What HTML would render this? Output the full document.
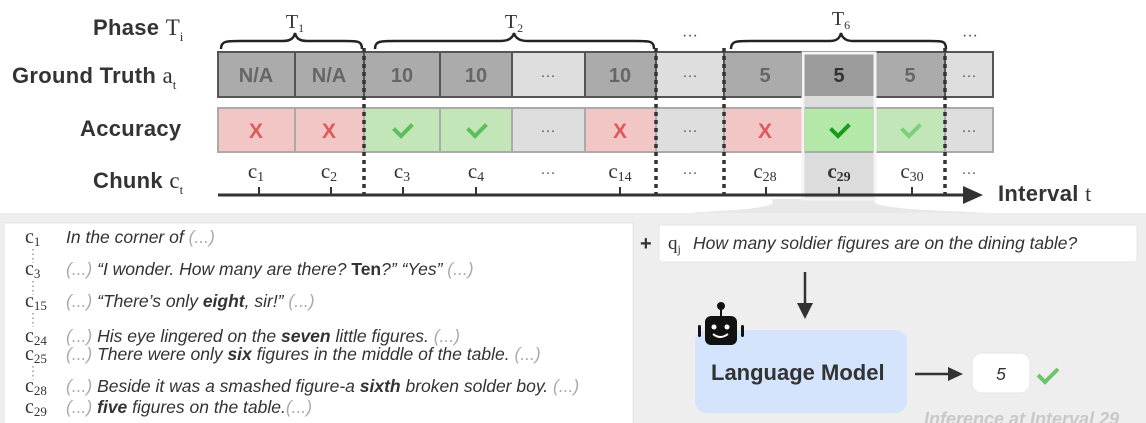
<!DOCTYPE html>
<html><head><meta charset="utf-8"><style>
html,body{margin:0;padding:0;background:#fff;width:1146px;height:423px;overflow:hidden}
svg text{font-family:"Liberation Sans",sans-serif}
.lab{font-weight:bold;font-size:22px;fill:#333;letter-spacing:0.3px}
.ser{font-family:"Liberation Serif",serif !important;fill:#333;letter-spacing:0}
.cell{font-weight:bold;font-size:20px;fill:#666}
.it{font-style:italic;font-size:17.5px;fill:#333}
.gr{fill:#aaa}
</style></head><body>
<svg width="1146" height="423" viewBox="0 0 1146 423" xmlns="http://www.w3.org/2000/svg">
<rect x="0" y="213" width="1146" height="210" fill="#eeeeee"/>
<path d="M770 199 C790 210 700 211 690 213 L990 213 C960 211 860 210 876 199 Z" fill="#e8e8e8"/>
<text x="93" y="35" class="lab">Phase <tspan class="ser" font-weight="normal" font-size="23">T</tspan><tspan class="ser" font-weight="normal" font-size="13" dy="6">i</tspan></text>
<text x="12" y="83" class="lab" font-size="23">Ground Truth <tspan class="ser" font-weight="normal" font-size="23">a</tspan><tspan class="ser" font-weight="normal" font-size="13" dy="6">t</tspan></text>
<text x="80" y="136" class="lab" font-size="23">Accuracy</text>
<text x="93" y="188" class="lab" font-size="23">Chunk <tspan class="ser" font-weight="normal" font-size="23">c</tspan><tspan class="ser" font-weight="normal" font-size="13" dy="6">t</tspan></text>
<g fill="none" stroke="#222" stroke-width="2.5">
<path d="M221 49 C221 41 226 41 240 41 L283 41 C292 41 294 37 295 33 C296 37 298 41 307 41 L345 41 C358 41 362 41 362 49"/>
<path d="M375 49 C375 41 380 41 395 41 L500 41 C510 41 513 37 514 33 C515 37 518 41 528 41 L636 41 C650 41 654 41 654 49"/>
<path d="M731 49 C731 41 736 41 750 41 L830 41 C838 41 840 37 841 33 C842 37 845 41 853 41 L930 41 C943 41 946 41 946 49"/>
</g>
<text x="295" y="28" class="ser" font-size="20" text-anchor="middle">T<tspan font-size="12" dy="4">1</tspan></text>
<text x="514" y="28" class="ser" font-size="20" text-anchor="middle">T<tspan font-size="12" dy="4">2</tspan></text>
<text x="841" y="25" class="ser" font-size="20" text-anchor="middle">T<tspan font-size="12" dy="4">6</tspan></text>
<text x="690" y="40" font-size="16" fill="#444" text-anchor="middle">···</text>
<text x="970" y="40" font-size="16" fill="#444" text-anchor="middle">···</text>
<g stroke="#555" stroke-width="2">
<rect x="218" y="52" width="146" height="45" fill="#ababab"/>
<rect x="364" y="52" width="148" height="45" fill="#ababab"/>
<rect x="512" y="52" width="73" height="45" fill="#dedede"/>
<rect x="585" y="52" width="71" height="45" fill="#ababab"/>
<rect x="656" y="52" width="68" height="45" fill="#dedede"/>
<rect x="724" y="52" width="221" height="45" fill="#ababab"/>
<rect x="945" y="52" width="48" height="45" fill="#dedede"/>
<line x1="295" y1="52" x2="295" y2="97"/><line x1="440" y1="52" x2="440" y2="97"/>
<line x1="802" y1="52" x2="802" y2="97"/><line x1="875" y1="52" x2="875" y2="97"/>
</g>
<rect x="804" y="54" width="70" height="145" fill="#dcdcdc"/>
<rect x="804" y="54" width="70" height="42" fill="#9b9b9b"/>
<g text-anchor="middle">
<text x="256" y="82" class="cell">N/A</text><text x="329" y="82" class="cell">N/A</text>
<text x="402" y="82" class="cell">10</text><text x="476" y="82" class="cell">10</text>
<text x="620" y="82" class="cell">10</text>
<text x="765" y="82" class="cell">5</text><text x="839" y="82" class="cell" style="fill:#333">5</text><text x="910" y="82" class="cell">5</text>
</g>
<g font-size="15" fill="#555" text-anchor="middle"><text x="548" y="80">···</text><text x="690" y="80">···</text><text x="969" y="80">···</text></g>
<g stroke="#aaa" stroke-width="2">
<rect x="218" y="108" width="146" height="44" fill="#f3c6c6"/>
<rect x="364" y="108" width="148" height="44" fill="#c2e6b8"/>
<rect x="512" y="108" width="73" height="44" fill="#dedede"/>
<rect x="585" y="108" width="71" height="44" fill="#f3c6c6"/>
<rect x="656" y="108" width="68" height="44" fill="#dedede"/>
<rect x="724" y="108" width="80" height="44" fill="#f3c6c6"/>
<rect x="804" y="108" width="70" height="44" fill="#b3e8a8"/>
<rect x="874" y="108" width="71" height="44" fill="#c2e6b8"/>
<rect x="945" y="108" width="48" height="44" fill="#dedede"/>
<line x1="295" y1="108" x2="295" y2="152"/><line x1="440" y1="108" x2="440" y2="152"/>
</g>
<g font-weight="bold" font-size="21" fill="#dc5b5b" text-anchor="middle">
<text x="256" y="138">X</text><text x="329" y="138">X</text><text x="620" y="138">X</text><text x="765" y="138">X</text></g>
<g fill="none" stroke-width="4" stroke-linecap="square">
<path d="M395 130 l6 6 l10 -10" stroke="#5cbf5c"/><path d="M469 130 l6 6 l10 -10" stroke="#5cbf5c"/>
<path d="M832 130 l6 6 l10 -10" stroke="#1a9a1a"/><path d="M903 130 l6 6 l10 -10" stroke="#7ccf7c"/>
</g>
<g font-size="15" fill="#555" text-anchor="middle"><text x="548" y="135">···</text><text x="690" y="135">···</text><text x="969" y="135">···</text></g>
<g text-anchor="middle">
<text x="256" y="178" class="ser" font-size="21">c<tspan font-size="14" dy="3">1</tspan></text>
<text x="329" y="178" class="ser" font-size="21">c<tspan font-size="14" dy="3">2</tspan></text>
<text x="402" y="178" class="ser" font-size="21">c<tspan font-size="14" dy="3">3</tspan></text>
<text x="476" y="178" class="ser" font-size="21">c<tspan font-size="14" dy="3">4</tspan></text>
<text x="620" y="178" class="ser" font-size="21">c<tspan font-size="14" dy="3">14</tspan></text>
<text x="765" y="178" class="ser" font-size="21">c<tspan font-size="14" dy="3">28</tspan></text>
<text x="839" y="178" class="ser" font-size="21" font-weight="bold">c<tspan font-size="14" dy="3">29</tspan></text>
<text x="912" y="178" class="ser" font-size="21">c<tspan font-size="14" dy="3">30</tspan></text>
</g>
<g font-size="15" fill="#555" text-anchor="middle"><text x="548" y="177">···</text><text x="690" y="177">···</text><text x="969" y="177">···</text></g>
<rect x="803" y="53" width="72" height="146" fill="none" stroke="#f4f4f4" stroke-width="3"/>
<line x1="218" y1="195" x2="965" y2="195" stroke="#333" stroke-width="3"/>
<path d="M963 186 L983 195 L963 204 Z" fill="#333"/>
<g stroke="#333" stroke-width="2">
<line x1="259" y1="187" x2="259" y2="195"/><line x1="331" y1="187" x2="331" y2="195"/>
<line x1="403" y1="187" x2="403" y2="195"/><line x1="476" y1="187" x2="476" y2="195"/>
<line x1="620" y1="187" x2="620" y2="195"/><line x1="766" y1="187" x2="766" y2="195"/>
<line x1="839" y1="187" x2="839" y2="195"/><line x1="912" y1="187" x2="912" y2="195"/>
</g>
<g stroke="#333" stroke-width="3.5" stroke-dasharray="4 4">
<line x1="364" y1="48" x2="364" y2="195"/><line x1="656" y1="48" x2="656" y2="195"/>
<line x1="724" y1="48" x2="724" y2="195"/><line x1="945" y1="48" x2="945" y2="195"/>
</g>
<text x="998" y="201" class="lab" font-size="23">Interval <tspan class="ser" font-weight="normal">t</tspan></text>
<rect x="4" y="223" width="629" height="210" fill="#fff" stroke="#e4e4e4"/>
<g>
<text x="25" y="243" class="ser" font-size="20">c<tspan font-size="13" dy="3">1</tspan></text>
<text x="25" y="275" class="ser" font-size="20">c<tspan font-size="13" dy="3">3</tspan></text>
<text x="25" y="307" class="ser" font-size="20">c<tspan font-size="13" dy="3">15</tspan></text>
<text x="25" y="342" class="ser" font-size="20">c<tspan font-size="13" dy="3">24</tspan></text>
<text x="25" y="360" class="ser" font-size="20">c<tspan font-size="13" dy="3">25</tspan></text>
<text x="25" y="392" class="ser" font-size="20">c<tspan font-size="13" dy="3">28</tspan></text>
<text x="25" y="413" class="ser" font-size="20">c<tspan font-size="13" dy="3">29</tspan></text>
</g>
<g stroke="#999" stroke-width="1.5" stroke-dasharray="1.5 3"><line x1="33" y1="249" x2="33" y2="263"/><line x1="33" y1="281" x2="33" y2="295"/><line x1="33" y1="313" x2="33" y2="327"/><line x1="33" y1="366" x2="33" y2="380"/></g>
<text x="66" y="243" class="it">In the corner of <tspan class="gr">(...)</tspan></text>
<text x="66" y="275" class="it"><tspan class="gr">(...)</tspan> “I wonder. How many are there? <tspan font-weight="bold" font-style="normal">Ten</tspan>?” “Yes” <tspan class="gr">(...)</tspan></text>
<text x="66" y="307" class="it"><tspan class="gr">(...)</tspan> “There’s only <tspan font-weight="bold">eight</tspan>, sir!” <tspan class="gr">(...)</tspan></text>
<text x="66" y="342" class="it"><tspan class="gr">(...)</tspan> His eye lingered on the <tspan font-weight="bold">seven</tspan> little figures. <tspan class="gr">(...)</tspan></text>
<text x="66" y="360" class="it"><tspan class="gr">(...)</tspan> There were only <tspan font-weight="bold">six</tspan> figures in the middle of the table. <tspan class="gr">(...)</tspan></text>
<text x="66" y="392" class="it"><tspan class="gr">(...)</tspan> Beside it was a smashed figure-a <tspan font-weight="bold">sixth</tspan> broken solder boy. <tspan class="gr">(...)</tspan></text>
<text x="66" y="413" class="it"><tspan class="gr">(...)</tspan> <tspan font-weight="bold">five</tspan> figures on the table.<tspan class="gr">(...)</tspan></text>
<text x="640" y="250" font-size="20" font-weight="bold" fill="#333">+</text>
<rect x="659" y="225" width="478" height="37" rx="3" fill="#fff" stroke="#e6e6ee"/>
<text x="668" y="249" class="ser" font-size="19">q<tspan font-size="12" dy="4">j</tspan></text>
<text x="693" y="249" class="it" font-size="19.5">How many soldier figures are on the dining table?</text>
<line x1="805" y1="272" x2="805" y2="305" stroke="#333" stroke-width="2.5"/>
<path d="M797 303 L813 303 L805 319 Z" fill="#333"/>
<rect x="695" y="330" width="212" height="83" rx="12" fill="#d3e4fc"/>
<text x="711" y="380" font-size="22" font-weight="bold" fill="#333">Language Model</text>
<circle cx="721" cy="306" r="4" fill="#111"/><line x1="721" y1="306" x2="721" y2="318" stroke="#111" stroke-width="2"/>
<rect x="705" y="316" width="32" height="29" rx="6" fill="#111"/>
<rect x="698" y="325" width="3" height="12" rx="1.5" fill="#111"/><rect x="741" y="325" width="3" height="12" rx="1.5" fill="#111"/>
<circle cx="714" cy="327" r="2.5" fill="#fff"/><circle cx="727" cy="327" r="2.5" fill="#fff"/>
<path d="M713 334 Q720 340 728 334" stroke="#fff" stroke-width="2" fill="none"/>
<line x1="915" y1="374" x2="950" y2="374" stroke="#333" stroke-width="2.5"/>
<path d="M948 367 L963 374 L948 381 Z" fill="#333"/>
<rect x="972" y="353" width="58" height="40" rx="10" fill="#fff" stroke="#e6e6ee"/>
<text x="1001" y="380" text-anchor="middle" class="it" font-size="20">5</text>
<path d="M1038 375 l7 7 l13 -13" stroke="#6cc46c" stroke-width="4" fill="none"/>
<text x="924" y="425" font-size="18" font-weight="bold" font-style="italic" fill="#c8c8c8">Inference at Interval 29</text>
</svg>
</body></html>
